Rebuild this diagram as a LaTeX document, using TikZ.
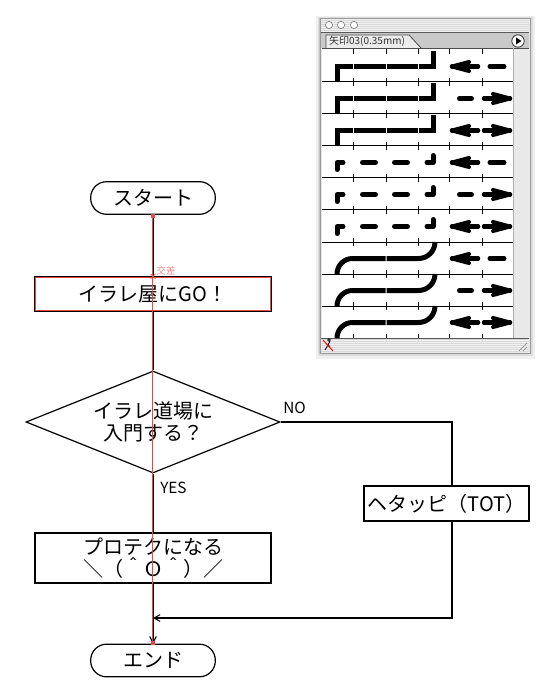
\documentclass[tikz,border=0pt]{standalone}
\usepackage{fontspec}
\setmainfont{Noto Sans CJK JP}
\usetikzlibrary{shapes.geometric,arrows.meta}
\definecolor{selred}{HTML}{E8474B}
\definecolor{crosspink}{HTML}{F28A8C}
\definecolor{winframe}{HTML}{9A9A9A}
\definecolor{stripeA}{HTML}{F2F2F2}
\definecolor{stripeB}{HTML}{D9D9D9}
\definecolor{tabrow}{HTML}{C9C9C9}
\definecolor{tabfill}{HTML}{ECECEC}
\definecolor{scrollcol}{HTML}{E9E9E9}
\newcommand\palL[2]{%
  \draw[line width=3.4pt, line cap=round] (#1+2,#2) -- (#1+28,#2);
  \draw[line width=3pt, line cap=round, line join=round] (#1+19,#2-4.5) -- (#1+2,#2) -- (#1+19,#2+4.5);}
\newcommand\palR[2]{%
  \draw[line width=3.4pt, line cap=round] (#1-28,#2) -- (#1-2,#2);
  \draw[line width=3pt, line cap=round, line join=round] (#1-19,#2-4.5) -- (#1-2,#2) -- (#1-19,#2+4.5);}
\newcommand\paldash[3]{%
  \draw[line width=3.75pt, line cap=round] (#1,#3) -- (#2,#3);}
\begin{document}
\begin{tikzpicture}[x=0.75pt,y=-0.75pt,
  font=\fontsize{15}{16.5}\selectfont,
  flow/.style={draw=black, line width=0.9pt, inner sep=0pt, align=center},
  term/.style={flow, rectangle, rounded corners=12pt, minimum width=93.5pt, minimum height=24.5pt},
  proc/.style={flow, rectangle},
  dec/.style={flow, diamond, shape aspect=2.49, minimum width=190.5pt, minimum height=76.5pt},
  conn/.style={black, line width=0.8pt},
  arr/.style={conn, -{Straight Barb[length=4.5pt,width=5pt]}},
  lab/.style={font=\fontsize{11.5}{12}\selectfont, inner sep=0pt},
  pal/.style={line width=3.75pt},
  tick/.style={black, line width=0.75pt}
]
\useasboundingbox (0,0) rectangle (547,695);
\fill[white] (0,0) rectangle (547,695);

% ---------------- palette window ----------------
\fill[black, opacity=0.06] (316,16) rectangle (535,359);
\fill[black, opacity=0.08] (318,17) rectangle (533,356);
\fill[black, opacity=0.10] (319,18) rectangle (531,354);
\fill[scrollcol] (320,18) rectangle (530,353);
% title bar stripes
\fill[stripeA] (321,19) rectangle (529,32);
\foreach \y in {20,22,...,30} \fill[stripeB] (321,\y) rectangle (529,\y+1);
\foreach \cx in {329,341,354} \draw[fill=white, draw=gray, line width=0.5pt] (\cx,25) circle[radius=3.6];
% tab row
\fill[tabrow] (321,32) rectangle (529,48);
\draw[gray!70!black, line width=0.5pt] (321,32) -- (529,32);
\draw[fill=tabfill, draw=gray!60!black, line width=0.6pt] (326,48) -- (326,35) -- (409,35) -- (421,48);
\node[font=\fontsize{7.5}{8}\selectfont, text=black!80, inner sep=0pt] (tabtxt) at (367,41.5) {矢印03(0.35mm)};
\draw[fill=white, draw=black!80, line width=0.6pt] (518,41) circle[radius=6.2];
\fill[black] (516,37.5) -- (521.5,41) -- (516,44.5) -- cycle;
% content
\fill[white] (322,48.5) rectangle (513,338);
\draw[gray!60!black, line width=0.6pt] (322,48.5) -- (529,48.5);
\draw[gray!60, line width=0.5pt] (513.3,48.5) -- (513.3,338);
% bottom bar
\fill[stripeA] (321,338) rectangle (529,352);
\foreach \y in {339,341,...,351} \fill[stripeB] (321,\y) rectangle (529,\y+0.8);
\draw[gray!70!black, line width=0.5pt] (321,338) -- (529,338);
\draw[black, line width=0.6pt] (325,350) -- (328,345) -- (330,347) (328,345) -- (330,341) (329,340) circle[radius=1.4];
\draw[red, line width=0.7pt] (323,340) -- (333,351);
\foreach \d in {0,4,8} \draw[gray, line width=0.5pt] (527-\d,351) -- (527,351-\d);
\draw[winframe, line width=0.7pt] (320,18) rectangle (530,353);

% rows of strokes
\foreach \i in {0,...,8}{
  \pgfmathsetmacro\t{50+32*\i}
  \pgfmathsetmacro\m{\t+16.5}
  \pgfmathsetmacro\b{\t+32}
  \pgfmathtruncatemacro\kind{int(\i/3)}
  \pgfmathtruncatemacro\ar{mod(\i,3)}
  \ifcase\kind
    \draw[pal] (337,\b) -- (337,\m) -- (352.5,\m);
    \draw[pal] (353.5,\m) -- (385.5,\m);
    \draw[pal] (386.5,\m) -- (417.5,\m);
    \draw[pal] (418.5,\m) -- (433,\m) -- (433,\t+1.5);
  \or
    \draw[pal, line cap=round, line join=round] (337,\t+23.5) -- (337,\m) -- (343,\m);
    \draw[pal, line cap=round] (362.5,\m) -- (375.5,\m);
    \draw[pal, line cap=round] (394.5,\m) -- (407.5,\m);
    \draw[pal, line cap=round, line join=round] (427,\m) -- (433,\m) -- (433,\t+9.5);
  \or
    \draw[pal] (337,\b) arc[start angle=180, end angle=270, radius=15.5] -- (385.5,\m);
    \draw[pal] (386.5,\m) -- (418.5,\m) arc[start angle=90, end angle=0, radius=16.5];
  \fi
  \ifcase\ar
    \palL{450}{\m}\paldash{490}{504}{\m}
  \or
    \paldash{459.5}{471.5}{\m}\palR{512}{\m}
  \or
    \palL{450}{\m}\palR{512}{\m}
  \fi
}
% row lines and ticks
\foreach \y in {82,114,...,306} \draw[tick] (322,\y) -- (513,\y);
\foreach \x in {353,386,418,449,482}{
  \draw[tick] (\x,49) -- (\x,54);
  \draw[tick] (\x,334) -- (\x,338);
  \foreach \y in {82,114,...,306} \draw[tick] (\x,\y-4) -- (\x,\y+4);
}

% ---------------- flowchart ----------------
\node[term] (start) at (153,198) {スタート};
\node[proc, minimum width=177pt, minimum height=25.5pt] (go) at (153,294) {イラレ屋にGO！};
\node[dec] (q) at (153,422) {イラレ道場に\\入門する？};
\node[proc, minimum width=177pt, minimum height=37.5pt] (pro) at (153,558) {プロテクになる\\＼（＾Ｏ＾）／};
\node[proc, minimum width=123.75pt, minimum height=26.25pt] (tot) at (446.5,503.5) {ヘタッピ（TOT）};
\node[term] (fin) at (153,660.5) {エンド};
\node[lab, anchor=west] (yes) at (160,488) {YES};
\node[lab, anchor=west] (no) at (283,408) {NO};

\coordinate (nc) at (452,422);
\coordinate (sc) at (452,618);
\coordinate (mc) at (153,618);

\draw[conn] (start.south) -- (go.north);
\draw[conn] (go.south) -- (q.north);
\draw[conn] (q.south) -- (pro.north);
\draw[arr] (pro.south) -- (fin.north);
\draw[conn] (q.east) -- (nc) -- (nc |- tot.north);
\draw[arr] (nc |- tot.south) -- (sc) -- (mc);

% selection highlight
\draw[selred, line width=0.75pt] ([shift={(1.3,1.3)}]go.north west) rectangle ([shift={(-1.3,-1.3)}]go.south east);
\draw[selred, line width=0.6pt] ([xshift=-0.4pt]start.south) -- ([xshift=-0.4pt]fin.north);
\fill[selred] (start.south) ++(-2,-1) rectangle ++(4,4);
\fill[selred] (fin.north) ++(-2,-3) rectangle ++(4,4);
\draw[selred, line width=0.5pt] (go.north) ++(-2.5,-2.5) -- ++(5,5);
\draw[selred, line width=0.5pt] (go.north) ++(-2.5,2.5) -- ++(5,-5);
\node[font=\fontsize{7}{8}\selectfont, text=crosspink, inner sep=0pt] (kosa) at (166,271) {交差};
\end{tikzpicture}
\end{document}
